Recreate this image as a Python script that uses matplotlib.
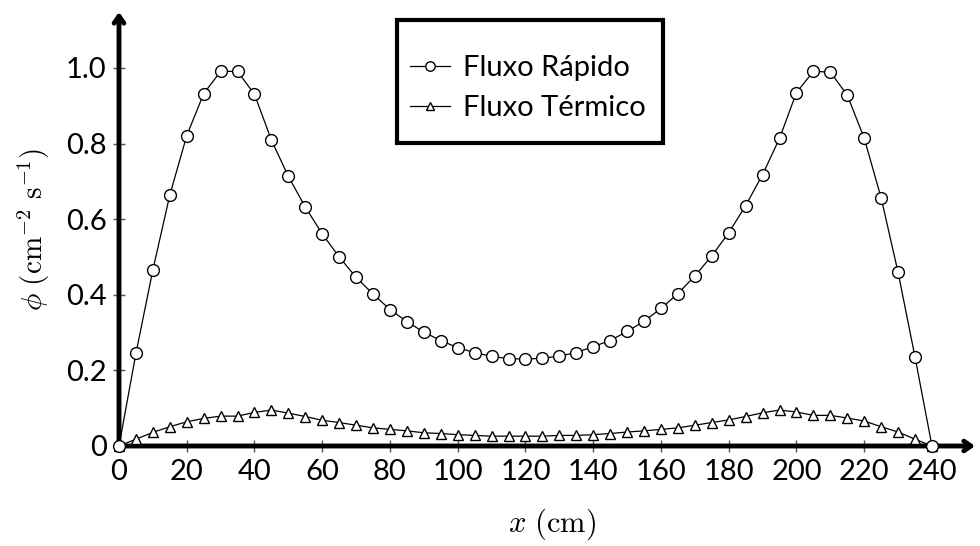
import numpy as np
import matplotlib
matplotlib.use('Agg')
import matplotlib.pyplot as plt
from matplotlib.patches import Rectangle

## Dati
x = np.arange(0, 241, 5)
rapido = [0.000, 0.245, 0.466, 0.664, 0.821, 0.932, 0.991, 0.991, 0.930, 0.809,
          0.713, 0.632, 0.561, 0.500, 0.446, 0.402, 0.361, 0.329, 0.301, 0.279,
          0.260, 0.247, 0.237, 0.231, 0.230, 0.232, 0.238, 0.247, 0.263, 0.279,
          0.303, 0.330, 0.364, 0.403, 0.450, 0.503, 0.564, 0.636, 0.718, 0.814,
          0.935, 0.991, 0.989, 0.928, 0.814, 0.656, 0.459, 0.235, 0.000]
termico = [0.000, 0.018, 0.036, 0.051, 0.064, 0.073, 0.079, 0.079, 0.089, 0.095,
           0.087, 0.078, 0.068, 0.062, 0.055, 0.048, 0.044, 0.040, 0.035, 0.033,
           0.030, 0.028, 0.026, 0.026, 0.026, 0.026, 0.028, 0.028, 0.030, 0.033,
           0.037, 0.040, 0.044, 0.048, 0.055, 0.062, 0.069, 0.078, 0.088, 0.095,
           0.090, 0.081, 0.081, 0.074, 0.066, 0.051, 0.037, 0.018, 0.000]
xticks = np.arange(0, 241, 20)
yticks = [0, 0.2, 0.4, 0.6, 0.8, 1.0]
yticklabels = ['0', '0.2', '0.4', '0.6', '0.8', '1.0']

plt.rcParams['font.family'] = ['Lato', 'DejaVu Sans']
plt.rcParams['mathtext.fontset'] = 'cm'

fig = plt.figure(figsize=(9.8, 5.46), dpi=100)
ax = fig.add_axes([119/980, 100/546, 856/980, 434/546])

ax.plot(x, rapido, '-o', color='black', lw=0.9, markersize=8.5,
        markerfacecolor='white', markeredgewidth=1.0, clip_on=False,
        label='Fluxo Rápido', zorder=4)
ax.plot(x, termico, '-^', color='black', lw=0.9, markersize=7.5,
        markerfacecolor='white', markeredgewidth=1.0, clip_on=False,
        label='Fluxo Térmico', zorder=3)

ax.set_xlim(0, 252.7)
ax.set_ylim(0, 1.148)

for s in ax.spines.values():
    s.set_visible(False)

##Assi con frecce
ax.annotate('', xy=(1, 0), xytext=(0, 0), xycoords='axes fraction',
            arrowprops=dict(arrowstyle='->,head_length=0.5,head_width=0.35',
                            lw=3.5, color='black', shrinkA=0, shrinkB=0), zorder=2)
ax.annotate('', xy=(0, 1), xytext=(0, 0), xycoords='axes fraction',
            arrowprops=dict(arrowstyle='->,head_length=0.5,head_width=0.35',
                            lw=3.5, color='black', shrinkA=0, shrinkB=0), zorder=2)

ax.set_xticks(xticks)
ax.set_yticks(yticks)
ax.set_yticklabels(yticklabels)
ax.tick_params(direction='inout', length=8, width=1, color='#555555',
               labelsize=21, pad=5)

ax.set_xlabel(r'$x\ (\mathrm{cm})$', fontsize=22)
ax.xaxis.set_label_coords(0.506, -0.14)
ax.set_ylabel(r'$\phi\ (\mathrm{cm}^{-2}\ \mathrm{s}^{-1})$', fontsize=21, labelpad=10)

##Legenda con cornice spessa
leg = ax.legend(loc='center left', bbox_to_anchor=(410/980, 1 - 88/546),
                bbox_transform=fig.transFigure, fontsize=21, frameon=False,
                handlelength=1.38, markerscale=0.8, borderpad=0,
                labelspacing=0.5, handletextpad=0.45, borderaxespad=0)
cornice = Rectangle((397/980, 1 - 143/546), 266/980, 123/546,
                    transform=fig.transFigure, facecolor='white',
                    edgecolor='black', lw=3, clip_on=False, zorder=5)
ax.add_patch(cornice)
leg.set_zorder(6)

plt.savefig('out.png', dpi=100)
